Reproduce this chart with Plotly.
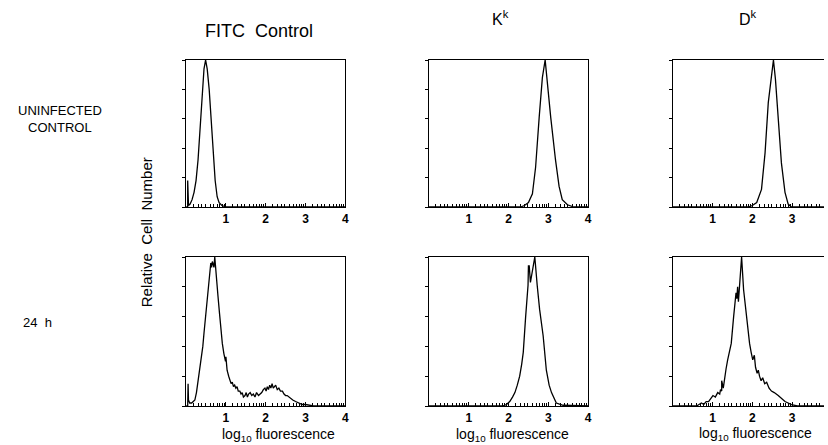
import math
import plotly.graph_objects as go

# ---------------- data ----------------
# log10 fluorescence (x) and relative cell number in % of peak (y)
fitc_uninf_x = [0, 0.04, 0.04, 0.06, 0.1, 0.15, 0.2, 0.25, 0.3, 0.35, 0.4, 0.45, 0.49, 0.53, 0.58,
                0.63, 0.68, 0.73, 0.78, 0.83, 0.9, 1.0, 4.0]
fitc_uninf_y = [0, 0, 18, 1, 2, 5, 10, 18, 32, 52, 76, 94, 100, 94, 80,
                58, 36, 18, 7, 3, 1, 0, 0]

fitc_24h_x = [0, 0.04, 0.05, 0.06, 0.09, 0.14, 0.18, 0.22, 0.26, 0.3, 0.34, 0.38, 0.42, 0.45, 0.49,
              0.53, 0.57, 0.6, 0.62, 0.64, 0.66, 0.68, 0.7, 0.72, 0.74, 0.76, 0.8, 0.84, 0.87, 0.91,
              0.95, 0.99, 1.0, 1.01, 1.03, 1.07, 1.1, 1.13, 1.16, 1.19, 1.22, 1.25, 1.28, 1.31, 1.35,
              1.38, 1.41, 1.44, 1.48, 1.51, 1.54, 1.57, 1.61, 1.65, 1.69, 1.73, 1.77, 1.82, 1.86,
              1.9, 1.94, 1.98, 2.01, 2.04, 2.07, 2.1, 2.13, 2.16, 2.19, 2.22, 2.25, 2.29, 2.33,
              2.37, 2.42, 2.46, 2.5, 2.54, 2.58, 2.63, 2.68, 2.75, 2.83, 2.92, 3.0, 3.08, 3.2, 4.0]
fitc_24h_y = [0, 0, 15, 4, 2, 2, 3, 4, 9, 17, 24, 31, 40, 49, 60,
              71, 80, 90, 96, 93, 97, 95, 93, 100, 92, 87, 74, 62, 51, 42,
              35, 30, 33, 28, 24, 20, 17, 15, 16, 13, 14, 12, 13, 10, 10,
              8, 9, 6, 7, 9, 6, 8, 9, 7, 8, 6, 9, 7, 8,
              9, 11, 12, 10, 13, 11, 14, 12, 15, 12, 13, 14, 11, 12,
              10, 10, 8, 7, 7, 6, 5, 4, 3, 2, 1, 1, 0.5, 0, 0]

kk_uninf_x = [0, 2.3, 2.4, 2.5, 2.6, 2.68, 2.77, 2.85, 2.92, 2.96, 3.06, 3.18, 3.27, 3.35, 3.48, 3.64, 4.0]
kk_uninf_y = [0, 0, 1, 3, 9, 27, 61, 88, 100, 88, 61, 32, 14, 5, 1.5, 0, 0]

kk_24h_x = [0, 1.85, 1.95, 2.03, 2.1, 2.16, 2.22, 2.28, 2.33, 2.37, 2.43, 2.49, 2.5, 2.52, 2.55,
            2.6, 2.66, 2.72, 2.78, 2.87, 2.95, 3.02, 3.08, 3.2, 3.37, 4.0]
kk_24h_y = [0, 0, 1, 3, 6, 9, 14, 20, 28, 36, 60, 81, 94, 94, 83,
            92, 100, 81, 65, 47, 24, 14, 9, 2, 0.5, 0]

dk_uninf_x = [0, 1.9, 2.0, 2.11, 2.23, 2.32, 2.4, 2.47, 2.53, 2.58, 2.65, 2.73, 2.82, 2.9, 2.98, 3.8]
dk_uninf_y = [0, 0, 1, 3, 12, 37, 71, 89, 100, 87, 60, 30, 10, 2, 0, 0]

dk_24h_x = [0, 0.6, 0.66, 0.72, 0.78, 0.84, 0.9, 0.96, 1.01, 1.07, 1.13, 1.18, 1.2, 1.23, 1.23,
            1.27, 1.3, 1.34, 1.38, 1.42, 1.47, 1.53, 1.59, 1.61, 1.63, 1.65, 1.7, 1.73, 1.78,
            1.84, 1.9, 1.93, 1.97, 2.01, 2.05, 2.08, 2.12, 2.15, 2.18, 2.22, 2.26, 2.31, 2.36,
            2.42, 2.48, 2.55, 2.65, 2.73, 2.82, 2.9, 2.98, 3.13, 3.8]
dk_24h_y = [0, 0, 1, 2, 1, 3, 3, 5, 7, 6, 9, 8, 11, 10, 17,
            12, 19, 25, 31, 36, 42, 60, 76, 72, 80, 70, 87, 100, 78,
            62, 50, 42, 36, 31, 34, 26, 22, 24, 20, 17, 19, 15, 16,
            12, 10, 9, 7, 5, 3, 2, 1, 0, 0]

tick_vals = [1, 2, 3, 4]
tick_text = ["1", "2", "3", "4"]
col_titles = ["FITC\u00a0\u00a0Control", "K<sup>k</sup>", "D<sup>k</sup>"]
row_titles = ["UNINFECTED<br>CONTROL", "24\u00a0\u00a0h"]
y_title = "Relative\u00a0\u00a0Cell\u00a0\u00a0Number"
x_title = "log<sub>10</sub> fluorescence"

panels = [
    (fitc_uninf_x, fitc_uninf_y), (kk_uninf_x, kk_uninf_y), (dk_uninf_x, dk_uninf_y),
    (fitc_24h_x, fitc_24h_y), (kk_24h_x, kk_24h_y), (dk_24h_x, dk_24h_y),
]

# ---------------- layout geometry ----------------
W, H = 828, 445
col_px = [(187, 347), (431, 591), (676, 828)]
col_range = [(0, 4), (0, 4), (0, 3.8)]
row_px = [(60, 207), (257, 406)]

FONT = "Liberation Sans, Arial, Helvetica, sans-serif"
minor_vals = []
for d in range(4):
    for k in [1.5, 2, 2.5, 3, 4, 5, 6, 7, 8, 9]:
        minor_vals.append(d + math.log10(k))

fig = go.Figure()
layout = dict(width=W, height=H, margin=dict(l=0, r=0, t=0, b=0),
              paper_bgcolor="white", plot_bgcolor="white", showlegend=False,
              font=dict(family=FONT, color="black"))

for i, (xs, ys) in enumerate(panels):
    r, c = divmod(i, 3)
    n = i + 1
    xa = "x" if n == 1 else f"x{n}"
    ya = "y" if n == 1 else f"y{n}"
    fig.add_trace(go.Scatter(x=xs, y=ys, mode="lines", xaxis=xa, yaxis=ya,
                             line=dict(color="black", width=1.3), hoverinfo="skip"))
    x0, x1 = col_px[c]
    yt, yb = row_px[r]
    xkey = "xaxis" if n == 1 else f"xaxis{n}"
    ykey = "yaxis" if n == 1 else f"yaxis{n}"
    layout[xkey] = dict(domain=[x0 / W, x1 / W], range=list(col_range[c]), anchor=ya,
                        showline=True, linecolor="black", linewidth=1.3, mirror=True,
                        showgrid=False, zeroline=False,
                        tickvals=tick_vals, ticktext=tick_text, ticks="inside", ticklen=4,
                        tickcolor="black",
                        tickfont=dict(size=12, family=FONT, color="black", weight="bold"),
                        minor=dict(tickvals=minor_vals, ticks="inside", ticklen=3,
                                   tickcolor="black", showgrid=False))
    layout[ykey] = dict(domain=[1 - yb / H, 1 - yt / H], range=[0, 100], anchor=xa,
                        showline=True, linecolor="black", linewidth=1.3,
                        mirror=(c != 2), showgrid=False, zeroline=False,
                        tickvals=[0, 20, 40, 60, 80, 100], ticks="outside", ticklen=3,
                        tickcolor="black", showticklabels=False)

ann = []
def add(text, xpx, ypx, size, angle=0):
    ann.append(dict(text=text, x=xpx / W, y=1 - ypx / H, xref="paper", yref="paper",
                    xanchor="center", yanchor="middle", showarrow=False, textangle=angle,
                    font=dict(size=size, family=FONT, color="black")))

add(col_titles[0], 260, 31, 18)
add(col_titles[1], 503, 18, 16)
add(col_titles[2], 752, 18, 16)
add(row_titles[0], 60, 119, 13)
add(row_titles[1], 38, 322, 13)
add(y_title, 147, 232, 15, angle=-90)
add(x_title, 280, 435, 14)
add(x_title, 515, 435, 14)
add(x_title, 759, 434, 14)
layout["annotations"] = ann

fig.update_layout(**layout)
fig.write_html("out.html")
